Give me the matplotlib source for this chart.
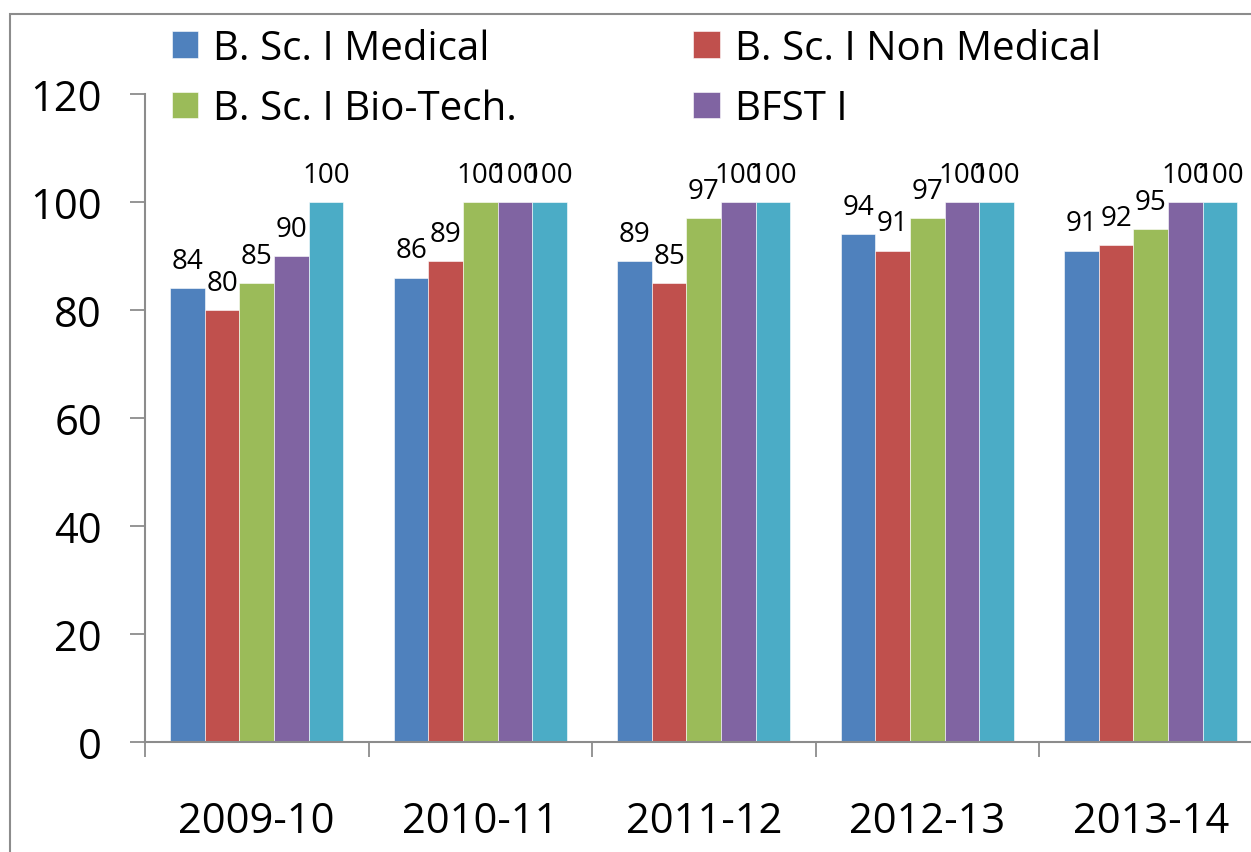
import matplotlib
matplotlib.use("Agg")
import matplotlib.pyplot as plt
from matplotlib.patches import Rectangle
import numpy as np

plt.rcParams['font.family'] = ['Open Sans', 'DejaVu Sans']

categories = ["2009-10", "2010-11", "2011-12", "2012-13", "2013-14"]
series_names = ["B. Sc. I Medical", "B. Sc. I Non Medical", "B. Sc. I Bio-Tech.", "BFST I", ""]
medical = [84, 86, 89, 94, 91]
non_medical = [80, 89, 85, 91, 92]
bio_tech = [85, 100, 97, 97, 95]
bfst = [90, 100, 100, 100, 100]
fifth = [100, 100, 100, 100, 100]
yticks = [0, 20, 40, 60, 80, 100, 120]

series = [medical, non_medical, bio_tech, bfst, fifth]
colors = ["#4F81BD", "#C0504D", "#9BBB59", "#8064A2", "#4BACC6"]

W, H = 1251, 853
fig = plt.figure(figsize=(W / 100, H / 100), dpi=100)

# outer chart border (extends beyond right/bottom edges)
fig.patches.append(Rectangle((10 / W, -0.1), 1.2, 1 - 15 / H + 0.1,
                             transform=fig.transFigure, fill=False,
                             edgecolor="#8C8C8C", linewidth=1.5))

ax_left, ax_right = 145, 145 + 5 * 223.5
ax_top, ax_bot = 95, 743
ax = fig.add_axes([ax_left / W, (H - ax_bot) / H,
                   (ax_right - ax_left) / W, (ax_bot - ax_top) / H])

x = np.arange(len(categories))
bw = 0.1545
handles = []
for i, (vals, col, name) in enumerate(zip(series, colors, series_names)):
    pos = x + (i - 2) * bw
    b = ax.bar(pos, vals, width=bw, color=col, edgecolor="white", linewidth=0.4,
               label=name)
    handles.append(b)
    for p, v in zip(pos, vals):
        ax.annotate(str(v), (p, v), xytext=(0, 14.5), textcoords="offset points",
                    ha="center", va="baseline", fontsize=20, color="black")

ax.set_xlim(-0.5, len(categories) - 0.5)
ax.set_ylim(0, 120)
ax.set_yticks(yticks)
ax.set_yticklabels([str(t) for t in yticks])
ax.tick_params(axis="y", length=11, width=1.3, color="#8C8C8C", pad=20,
               labelsize=30, direction="out")

ax.set_xticks(np.arange(len(categories) + 1) - 0.5)
ax.set_xticklabels([])
ax.tick_params(axis="x", which="major", length=11, width=1.3, color="#8C8C8C",
               direction="out")
ax.set_xticks(x, minor=True)
ax.set_xticklabels(categories, minor=True)
ax.tick_params(axis="x", which="minor", length=0, pad=42, labelsize=30)

for s in ["top", "right"]:
    ax.spines[s].set_visible(False)
for s in ["left", "bottom"]:
    ax.spines[s].set_color("#8C8C8C")
    ax.spines[s].set_linewidth(1.5)

# legend filled row by row: (Medical, Non Medical) / (Bio-Tech., BFST I)
order = [0, 2, 1, 3]
leg = fig.legend([handles[i] for i in order], [series_names[i] for i in order],
                 ncol=2, loc="upper left",
                 bbox_to_anchor=(172 / W, 1 - 29 / H), frameon=False,
                 fontsize=29, handlelength=0.65, handleheight=0.65,
                 handletextpad=0.38, columnspacing=4.37, labelspacing=0.5,
                 borderpad=0, borderaxespad=0)

fig.savefig("out.png", dpi=100)
